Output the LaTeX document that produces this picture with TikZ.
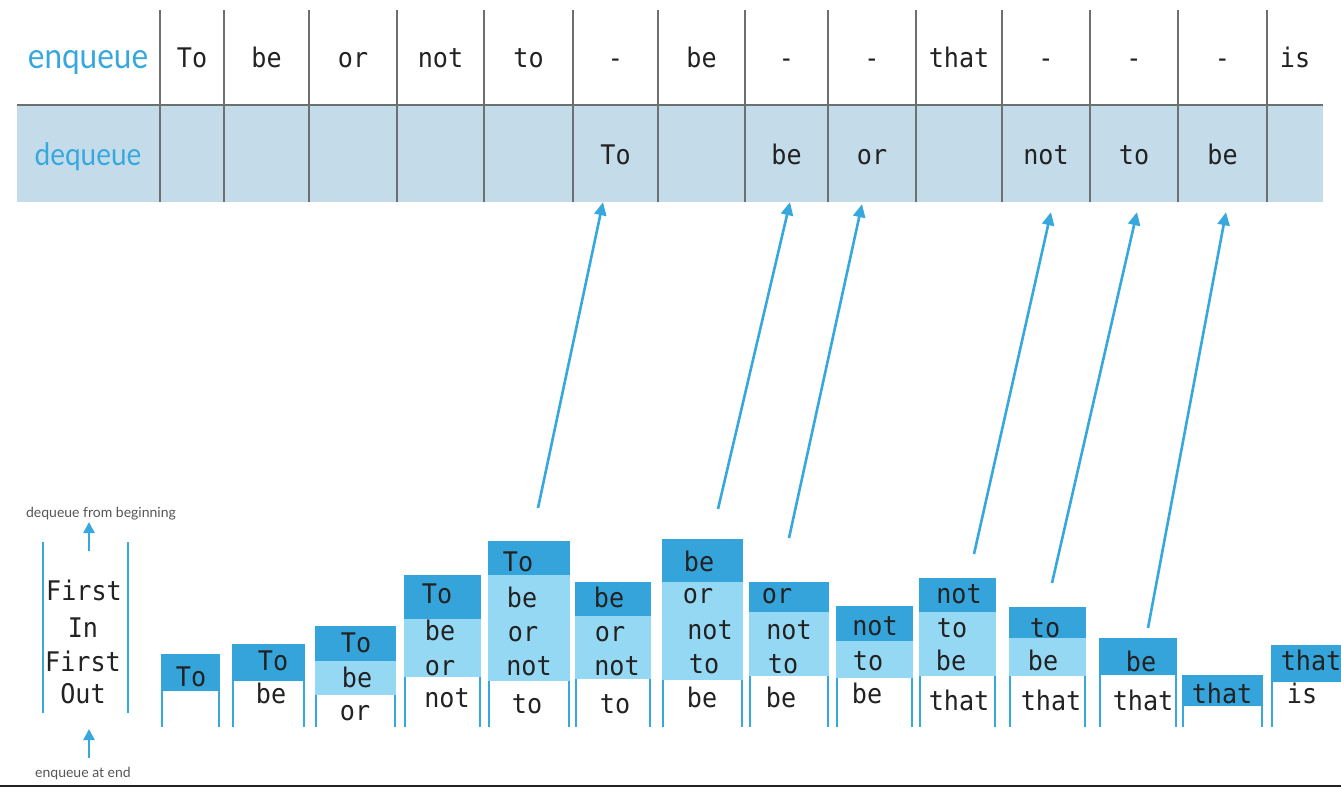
\documentclass[tikz,border=0pt]{standalone}
\usepackage{fontspec}
\usetikzlibrary{arrows.meta,calc}
\newfontfamily\monofont[FakeStretch=0.93]{DejaVu Sans Mono}
\newfontfamily\labelfont[FakeStretch=0.9]{Lato}
\newfontfamily\notefont{Lato}
\definecolor{qblue}{HTML}{36A8DE}
\definecolor{qdark}{HTML}{34A4DA}
\definecolor{qlight}{HTML}{95D8F4}
\definecolor{qrow}{HTML}{C4DCEA}
\definecolor{qgrid}{HTML}{6C7073}
\definecolor{qtext}{HTML}{222222}
\definecolor{qnote}{HTML}{555555}
\tikzset{
  word/.style={anchor=base, inner sep=0pt, text=qtext, font=\monofont\fontsize{27}{30}\selectfont},
  rowlabel/.style={anchor=base, inner sep=0pt, text=qblue},
  note/.style={anchor=base, inner sep=0pt, text=qnote, font=\notefont\fontsize{14}{15}\selectfont},
  cellarea/.style={inner sep=0pt, minimum height=97pt},
  grid/.style={draw=qgrid, line width=2.7pt},
  flow/.style={draw=qblue, line width=2.6pt, -{Triangle[length=13pt,width=12pt]}},
  side/.style={draw=qblue, line width=2.5pt},
}
\begin{document}
\begin{tikzpicture}[x=1pt,y=-1pt]
\useasboundingbox (0,0) rectangle (1341,790);
\clip (0,0) rectangle (1341,790);
\fill[white] (0,0) rectangle (1341,790);

% ---- operation table ----
\fill[qrow] (17,105) rectangle (1323,202);
\draw[grid] (17,105) -- (1323,105);
\foreach \x in {160,224,309,397,484,573,658,745,828,916,1002,1090,1178,1267}
  \draw[grid] (\x,10) -- (\x,202);

\node[rowlabel, font=\labelfont\fontsize{35}{37}\selectfont] (enq) at (88,68) {enqueue};
\node[rowlabel, font=\labelfont\fontsize{31}{33}\selectfont] (deq) at (88,165) {dequeue};

\foreach \x/\w [count=\i] in {192/To,266.5/be,353/or,440.5/not,528.5/to,615.5/-,701.5/be,786.5/-,872/-,959/that,1046/-,1134/-,1222.5/-,1295/is}
  \node[word] (e\i) at (\x,67) {\w};

\foreach \xa/\xb [count=\i] in {160/224,224/309,309/397,397/484,484/573,573/658,658/745,745/828,828/916,916/1002,1002/1090,1090/1178,1178/1267,1267/1323}
  \node[cellarea, minimum width={(\xb-\xa)*1pt}] (dc\i) at ({(\xa+\xb)/2},153.5) {};

\node[word] (d6) at (dc6 |- 0,164) {To};
\node[word] (d8) at (dc8 |- 0,164) {be};
\node[word] (d9) at (dc9 |- 0,164) {or};
\node[word] (d11) at (dc11 |- 0,164) {not};
\node[word] (d12) at (dc12 |- 0,164) {to};
\node[word] (d13) at (dc13 |- 0,164) {be};

% ---- queue legend ----
\draw[side] (43,542) -- (43,713);
\draw[side] (128,542) -- (128,713);
\node[word] (f1) at (84,600) {First};
\node[word] (f2) at (83,637) {In};
\node[word] (f3) at (83,671) {First};
\node[word] (f4) at (83,703) {Out};
\node[note] (lblout) at (101,517) {dequeue from beginning};
\node[note] (lblin) at (83,777) {enqueue at end};
\coordinate (outbase) at (89,551);
\coordinate (outtip) at (89,522);
\coordinate (inbase) at (89,758);
\coordinate (intip) at (89,729);
\draw[flow, line width=2.4pt, -{Triangle[length=11pt,width=11pt]}] (outbase) -- (outtip);
\draw[flow, line width=2.4pt, -{Triangle[length=11pt,width=11pt]}] (inbase) -- (intip);

% ---- queue snapshots: x1/x2/top/end of head/end of middle ----
\foreach \xa/\xb/\ya/\yb/\yc in {161/220/654/691/691, 232/305/644/681/681, 315/396/626/661/695, 404/481/575/619/677, 488/570/541/575/681, 575/651/582/616/679, 662/743/539/582/680, 749/829/582/612/676, 836/913/606/641/678, 919/996/578/612/676, 1009/1086/607/638/676, 1099/1177/638/675/675, 1182/1263/675/706/706, 1271/1345/645/682/682}
{
  \fill[qlight] (\xa,\yb) rectangle (\xb,\yc);
  \fill[qdark] (\xa,\ya) rectangle (\xb,\yb);
  \draw[side] (\xa+1.2,\yc) -- (\xa+1.2,727);
  \draw[side] (\xb-1.2,\yc) -- (\xb-1.2,727);
}

\node[word] (s1a) at (191,686) {To};

\node[word] (s2a) at (273,670) {To};
\node[word] (s2b) at (271,703) {be};

\node[word] (s3a) at (356,652) {To};
\node[word] (s3b) at (357,687) {be};
\node[word] (s3c) at (355,720) {or};

\node[word] (s4a) at (437,603) {To};
\node[word] (s4b) at (440,640) {be};
\node[word] (s4c) at (440,675) {or};
\node[word] (s4d) at (447,707) {not};

\node[word] (s5a) at (518,571) {To};
\node[word] (s5b) at (522,607) {be};
\node[word] (s5c) at (523,641) {or};
\node[word] (s5d) at (529,675) {not};
\node[word] (s5e) at (527,713) {to};

\node[word] (s6a) at (609,607) {be};
\node[word] (s6b) at (610,641) {or};
\node[word] (s6c) at (617,675) {not};
\node[word] (s6d) at (615,713) {to};

\node[word] (s7a) at (699,571) {be};
\node[word] (s7b) at (698,603) {or};
\node[word] (s7c) at (710,639) {not};
\node[word] (s7d) at (704,673) {to};
\node[word] (s7e) at (702,707) {be};

\node[word] (s8a) at (777,603) {or};
\node[word] (s8b) at (789,639) {not};
\node[word] (s8c) at (783,673) {to};
\node[word] (s8d) at (781,707) {be};

\node[word] (s9a) at (875,635) {not};
\node[word] (s9b) at (868,670) {to};
\node[word] (s9c) at (867,703) {be};

\node[word] (s10a) at (959,603) {not};
\node[word] (s10b) at (952,637) {to};
\node[word] (s10c) at (951,670) {be};
\node[word] (s10d) at (959,710) {that};

\node[word] (s11a) at (1045,637) {to};
\node[word] (s11b) at (1043,670) {be};
\node[word] (s11c) at (1051,710) {that};

\node[word] (s12a) at (1141,671) {be};
\node[word] (s12b) at (1143,710) {that};

\node[word] (s13a) at (1222,703) {that};

\node[word] (s14a) at (1311,670) {that};
\node[word] (s14b) at (1302,703) {is};

% ---- dequeued items go back up to the table ----
\coordinate (a1) at (538,508);
\coordinate (a2) at (718,509);
\coordinate (a3) at (789,538);
\coordinate (a4) at (974,554);
\coordinate (a5) at (1052,583);
\coordinate (a6) at (1148,628);
\draw[flow] (a1) -- ($(dc6.south)+(-12.5,0)$);
\draw[flow] (a2) -- ($(dc8.south)+(3.5,0)$);
\draw[flow] (a3) -- ($(dc9.south)+(-10,2)$);
\draw[flow] (a4) -- ($(dc11.south)+(5,10)$);
\draw[flow] (a5) -- ($(dc12.south)+(3,10)$);
\draw[flow] (a6) -- ($(dc13.south)+(3.5,10)$);

% ---- ground line ----
\draw[draw=qtext, line width=2pt] (0,786) -- (1341,786);
\end{tikzpicture}
\end{document}
